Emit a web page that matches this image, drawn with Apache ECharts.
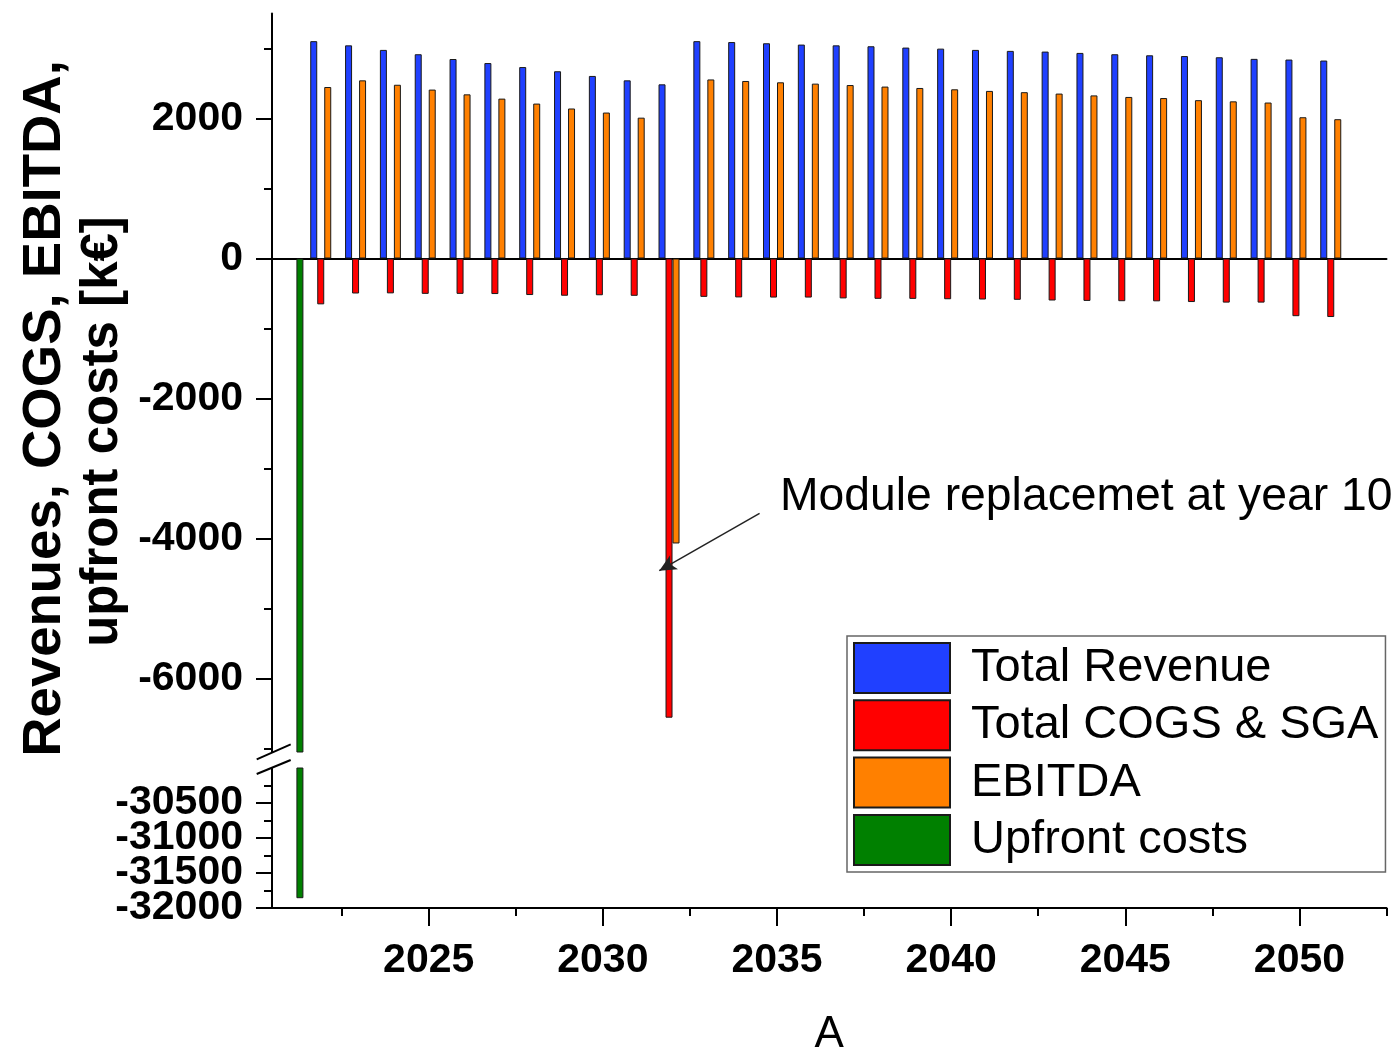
<!DOCTYPE html>
<html>
<head>
<meta charset="utf-8">
<title>Revenues, COGS, EBITDA, upfront costs</title>
<script src="https://cdn.jsdelivr.net/npm/echarts@6/dist/echarts.min.js"></script>
<style>
html, body { margin: 0; padding: 0; background: #fff; }
#chart { width: 1400px; height: 1047px; }
</style>
</head>
<body>
<div id="chart"></div>
<script>
// years of operation (upfront cost sits at 2021)
const years = [2022, 2023, 2024, 2025, 2026, 2027, 2028, 2029, 2030, 2031,
               2032, 2033, 2034, 2035, 2036, 2037, 2038, 2039, 2040, 2041,
               2042, 2043, 2044, 2045, 2046, 2047, 2048, 2049, 2050, 2051];
const revenue = [3105, 3045, 2980, 2918, 2850, 2792, 2735, 2675, 2608, 2545,
                 2488, 3105, 3092, 3075, 3056, 3045, 3032, 3013, 2998, 2980,
                 2966, 2956, 2937, 2918, 2903, 2892, 2875, 2852, 2842, 2828];
const cogs = [-655, -500, -498, -505, -505, -508, -522, -532, -525, -533,
              -6560, -548, -556, -558, -558, -570, -576, -577, -582, -586,
              -590, -600, -606, -610, -612, -622, -630, -630, -824, -836];
const ebitda = [2450, 2545, 2482, 2413, 2345, 2284, 2213, 2143, 2085, 2012,
                -4071, 2558, 2536, 2517, 2498, 2478, 2456, 2436, 2417, 2394,
                2376, 2356, 2330, 2308, 2292, 2262, 2245, 2228, 2018, 1990];
const upfrontYears = [2021];
const upfront = [-31860];

const xLabelValues = [2025, 2030, 2035, 2040, 2045, 2050];
const xMinorValues = [2022.5, 2027.5, 2032.5, 2037.5, 2042.5, 2047.5, 2052.5];
const yUpperLabels = [2000, 0, -2000, -4000, -6000];
const yUpperMinor = [3000, 1000, -1000, -3000, -5000, -7000];
// lower segment labels sit tight, so they are split over two axes
const yLowerLabelsA = [-30500, -31500];
const yLowerLabelsB = [-31000, -32000];
const yLowerMinor = [-30250, -30750, -31250, -31750];

// annotation arrow, in data units
const arrowFrom = [2034.6, -3640];
const arrowTo = [2031.72, -4460];

const font = '"Liberation Sans", Arial, Helvetica, sans-serif';
const pairs = (xs, ys) => xs.map((x, i) => [x, ys[i]]);

function bar(name, color, data, lower) {
    return {
        type: 'bar',
        name: name,
        data: data,
        xAxisIndex: lower ? 1 : 0,
        yAxisIndex: lower ? 2 : 0,
        barWidth: 7,
        barGap: '0%',
        clip: true,
        silent: true,
        itemStyle: { color: color, borderColor: '#1a1a1a', borderWidth: 1 }
    };
}

function valueAxis(grid, min, max, opts) {
    return Object.assign({
        type: 'value', gridIndex: grid, min: min, max: max,
        splitLine: { show: false },
        axisLine: { show: false, onZero: false },
        axisTick: { show: false },
        axisLabel: { show: false }
    }, opts);
}

const axisStroke = { color: '#000', width: 2 };
function tickLabel(values, margin) {
    return {
        show: true, margin: margin, customValues: values,
        color: '#000', fontSize: 41, fontWeight: 'bold', fontFamily: font,
        lineHeight: 30, hideOverlap: false,
        formatter: v => String(v)
    };
}

const chart = echarts.init(document.getElementById('chart'));

const series = [
    bar('Total Revenue', '#2040ff', pairs(years, revenue), false),
    bar('Total COGS & SGA', '#ff0000', pairs(years, cogs), false),
    bar('EBITDA', '#ff8000', pairs(years, ebitda), false),
    bar('Upfront costs', '#008000', pairs(upfrontYears, upfront), false),
    bar('Total Revenue', '#2040ff', pairs(years, revenue), true),
    bar('Total COGS & SGA', '#ff0000', pairs(years, cogs), true),
    bar('EBITDA', '#ff8000', pairs(years, ebitda), true),
    bar('Upfront costs', '#008000', pairs(upfrontYears, upfront), true)
];

series[1].markLine = {
    silent: true,
    symbol: ['none', 'arrow'],
    symbolSize: [12, 17],
    label: { show: false },
    lineStyle: { color: '#222', width: 1.5, type: 'solid' },
    data: [[{ coord: arrowFrom }, { coord: arrowTo }]]
};

chart.setOption({
    animation: false,
    backgroundColor: '#fff',
    grid: [
        { left: 272, top: 13.5, width: 1114.5, height: 738.5, outerBoundsMode: 'none', containLabel: false },
        { left: 272, top: 768, width: 1114.5, height: 140, outerBoundsMode: 'none', containLabel: false }
    ],
    xAxis: [
        valueAxis(0, 2020.5, 2052.5, {
            axisLine: { show: true, onZero: true, lineStyle: axisStroke }
        }),
        valueAxis(1, 2020.5, 2052.5, {
            position: 'bottom',
            axisLine: { show: true, onZero: false, lineStyle: axisStroke },
            axisTick: { show: true, length: 18, customValues: xLabelValues, lineStyle: axisStroke },
            axisLabel: tickLabel(xLabelValues, 38),
            name: 'A',
            nameLocation: 'middle',
            nameGap: 105,
            nameTextStyle: { color: '#000', fontSize: 44, fontFamily: font }
        }),
        valueAxis(1, 2020.5, 2052.5, {
            position: 'bottom',
            axisTick: { show: true, length: 8, customValues: xMinorValues, lineStyle: axisStroke }
        })
    ],
    yAxis: [
        valueAxis(0, -7050, 3500, {
            position: 'left',
            axisLine: { show: true, onZero: false, lineStyle: axisStroke },
            axisTick: { show: true, length: 16, customValues: yUpperLabels, lineStyle: axisStroke },
            axisLabel: tickLabel(yUpperLabels, 29)
        }),
        valueAxis(0, -7050, 3500, {
            position: 'left',
            axisTick: { show: true, length: 8, customValues: yUpperMinor, lineStyle: axisStroke }
        }),
        valueAxis(1, -32000, -30000, {
            position: 'left',
            axisLine: { show: true, onZero: false, lineStyle: axisStroke },
            axisTick: { show: true, length: 16, customValues: yLowerLabelsA, lineStyle: axisStroke },
            axisLabel: tickLabel(yLowerLabelsA, 29)
        }),
        valueAxis(1, -32000, -30000, {
            position: 'left',
            axisTick: { show: true, length: 16, customValues: yLowerLabelsB, lineStyle: axisStroke },
            axisLabel: tickLabel(yLowerLabelsB, 29)
        }),
        valueAxis(1, -32000, -30000, {
            position: 'left',
            axisTick: { show: true, length: 8, customValues: yLowerMinor, lineStyle: axisStroke }
        })
    ],
    legend: {
        data: ['Total Revenue', 'Total COGS & SGA', 'EBITDA', 'Upfront costs'],
        orient: 'vertical',
        left: 847,
        top: 636,
        padding: [6, 7, 6, 6],
        itemWidth: 96,
        itemHeight: 50,
        itemGap: 5.3,
        selectedMode: false,
        icon: 'rect',
        backgroundColor: '#fff',
        borderColor: '#666',
        borderWidth: 1.5,
        textStyle: { color: '#000', fontSize: 47, fontFamily: font, lineHeight: 46, padding: [5, 0, 0, 16] }
    },
    graphic: [
        {
            type: 'text', x: 45, y: 408.5, rotation: Math.PI / 2,
            style: { text: 'Revenues, COGS, EBITDA,', font: 'bold 54.5px ' + font, fill: '#000',
                     textAlign: 'center', textVerticalAlign: 'middle' }
        },
        {
            type: 'text', x: 103, y: 431.5, rotation: Math.PI / 2,
            style: { text: 'upfront costs [k€]', font: 'bold 51px ' + font, fill: '#000',
                     textAlign: 'center', textVerticalAlign: 'middle' }
        },
        {
            type: 'text', x: 780, y: 497,
            style: { text: 'Module replacemet at year 10', font: '46.3px ' + font, fill: '#000',
                     textAlign: 'left', textVerticalAlign: 'middle' }
        },
        // axis break marks
        {
            type: 'line', z: 100,
            shape: { x1: 256.7, y1: 759.3, x2: 290.7, y2: 744.3 },
            style: { stroke: '#000', lineWidth: 2 }
        },
        {
            type: 'line', z: 100,
            shape: { x1: 256.7, y1: 774, x2: 290.7, y2: 760 },
            style: { stroke: '#000', lineWidth: 2 }
        }
    ],
    series: series
});
</script>
</body>
</html>
